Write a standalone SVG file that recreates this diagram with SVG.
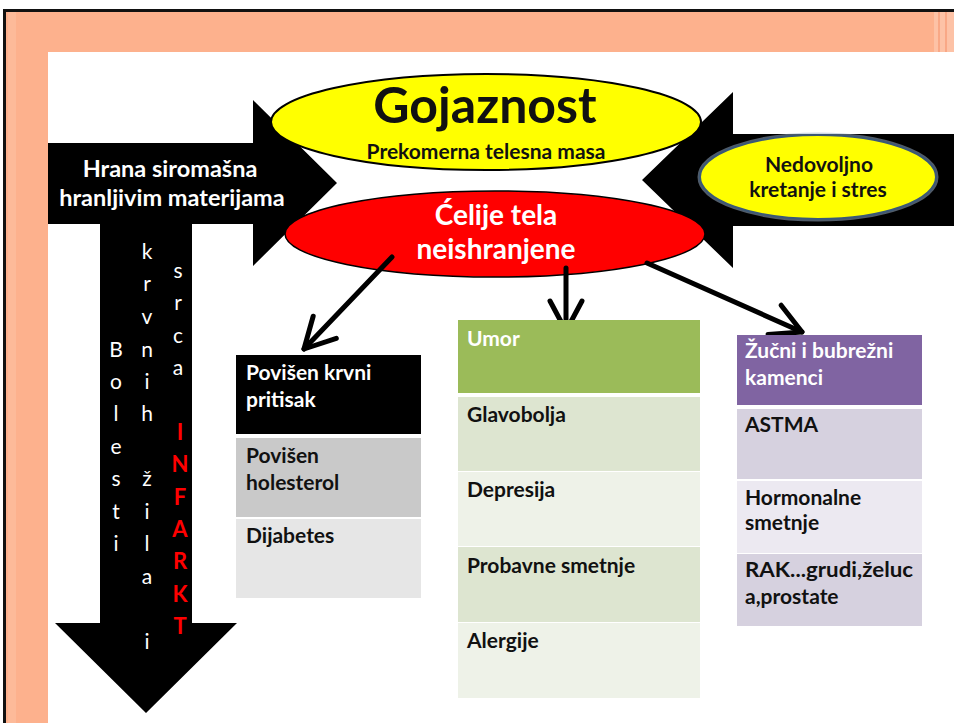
<svg xmlns="http://www.w3.org/2000/svg" width="954" height="723" viewBox="0 0 954 723">
<style>
text { font-family: Lato, "Open Sans", "Liberation Sans", sans-serif; }
.b { font-weight: bold; }
.w { fill: #ffffff; }
.k { fill: #111111; }
.vt { font-size: 21px; fill: #ffffff; text-anchor: middle; }
.rt { font-size: 22px; fill: #ff0000; font-weight: bold; text-anchor: middle; }
.cell { font-size: 21px; font-weight: bold; }
.conn { stroke: #000; stroke-width: 5; fill: none; stroke-linecap: round; marker-end: url(#vhead); }
</style>
<defs>
<marker id="vhead" viewBox="-8 -5 10 10" refX="0" refY="0" markerWidth="10" markerHeight="10" markerUnits="strokeWidth" orient="auto" overflow="visible">
<path d="M -6 -3.2 L 0 0 L -6 3.2" fill="none" stroke="#000" stroke-width="1" stroke-linejoin="round" stroke-linecap="round"/>
</marker>
</defs>
<!-- slide background -->
<rect x="0" y="0" width="954" height="723" fill="#ffffff"/>
<rect x="4" y="10" width="950" height="713" fill="#FDB18D"/>
<rect x="8" y="12" width="8" height="711" fill="#FDBA99"/>
<rect x="934" y="12" width="20" height="40" fill="#FDC2A6"/>
<rect x="938" y="12" width="2" height="40" fill="#F9A886"/>
<rect x="945" y="12" width="2" height="40" fill="#F9A886"/>
<rect x="4" y="9" width="950" height="3" fill="#111"/>
<rect x="3" y="9" width="3" height="714" fill="#111"/>
<rect x="48" y="52" width="906" height="671" fill="#ffffff"/>

<!-- big arrows -->
<g id="arrow-left">
<polygon points="48,143 253,143 253,100 337,183 253,266 253,224 48,224" fill="#000"/>
<polygon points="100,200 192,200 192,623 237,623 146,713 55,623 100,623" fill="#000"/>
<text class="b w" x="170" y="177" font-size="23.5" text-anchor="middle">Hrana siromašna</text>
<text class="b w" x="172" y="206" font-size="23.5" text-anchor="middle">hranljivim materijama</text>
<g id="col-bolesti">
<text class="vt" x="116" y="357">B</text>
<text class="vt" x="116" y="389">o</text>
<text class="vt" x="116" y="421">l</text>
<text class="vt" x="116" y="454">e</text>
<text class="vt" x="116" y="486">s</text>
<text class="vt" x="116" y="519">t</text>
<text class="vt" x="116" y="551">i</text>
</g>
<g id="col-krvnih">
<text class="vt" x="147" y="259">k</text>
<text class="vt" x="147" y="291">r</text>
<text class="vt" x="147" y="324">v</text>
<text class="vt" x="147" y="357">n</text>
<text class="vt" x="147" y="389">i</text>
<text class="vt" x="147" y="421">h</text>
<text class="vt" x="147" y="486">ž</text>
<text class="vt" x="147" y="519">i</text>
<text class="vt" x="147" y="551">l</text>
<text class="vt" x="147" y="584">a</text>
<text class="vt" x="147" y="649">i</text>
</g>
<g id="col-srca">
<text class="vt" x="178" y="278">s</text>
<text class="vt" x="178" y="310">r</text>
<text class="vt" x="178" y="343">c</text>
<text class="vt" x="178" y="375">a</text>
<text class="rt" x="180" y="440">I</text>
<text class="rt" x="180" y="472">N</text>
<text class="rt" x="180" y="505">F</text>
<text class="rt" x="180" y="537">A</text>
<text class="rt" x="180" y="569">R</text>
<text class="rt" x="180" y="602">K</text>
<text class="rt" x="180" y="634">T</text>
</g>
</g>

<g id="arrow-right">
<polygon points="954,134 733,134 733,92 642,180 733,268 733,226 954,226" fill="#000"/>
</g>

<g id="gojaznost">
<ellipse cx="486" cy="122" rx="215" ry="48" fill="#FFFF00" stroke="#000" stroke-width="2"/>
<text class="b k" x="485" y="123" font-size="50" text-anchor="middle">Gojaznost</text>
<text class="b k" x="486" y="159" font-size="21" text-anchor="middle">Prekomerna telesna masa</text>
</g>

<g id="celije">
<ellipse cx="495" cy="234" rx="210" ry="43" fill="#FF0000" stroke="#000" stroke-width="1.5"/>
<text class="b w" x="496" y="225" font-size="28" text-anchor="middle">Ćelije tela</text>
<text class="b w" x="496" y="259" font-size="28" text-anchor="middle">neishranjene</text>
</g>

<g id="nedovoljno">
<ellipse cx="818" cy="177" rx="118" ry="42" fill="none" stroke="#9FB6CF" stroke-width="5" opacity="0.5"/>
<ellipse cx="818" cy="177" rx="118" ry="42" fill="#FFFF00" stroke="#3A5878" stroke-width="2"/>
<text class="b k" x="819" y="172" font-size="21" text-anchor="middle">Nedovoljno</text>
<text class="b k" x="818" y="197" font-size="21" text-anchor="middle">kretanje i stres</text>
</g>

<g id="connectors">
<line class="conn" x1="392" y1="257" x2="304" y2="349"/>
<line class="conn" x1="566" y1="268" x2="566" y2="331"/>
<line class="conn" x1="647" y1="263" x2="802" y2="332"/>
</g>

<g id="table-left">
<rect x="236" y="355" width="185" height="79" fill="#000"/>
<rect x="236" y="438" width="185" height="79" fill="#C9C9C9"/>
<rect x="236" y="519" width="185" height="79" fill="#E6E6E6"/>
<text class="cell w" x="246" y="380">Povišen krvni</text>
<text class="cell w" x="246" y="407">pritisak</text>
<text class="cell k" x="246" y="463">Povišen</text>
<text class="cell k" x="246" y="490">holesterol</text>
<text class="cell k" x="246" y="543">Dijabetes</text>
</g>

<g id="table-middle">
<rect x="458" y="320" width="242" height="73" fill="#9BBB59"/>
<rect x="458" y="397" width="242" height="74" fill="#DDE5D0"/>
<rect x="458" y="472" width="242" height="74" fill="#EEF2E8"/>
<rect x="458" y="547" width="242" height="75" fill="#DDE5D0"/>
<rect x="458" y="623" width="242" height="75" fill="#EEF2E8"/>
<text class="cell w" x="467" y="346">Umor</text>
<text class="cell k" x="467" y="422">Glavobolja</text>
<text class="cell k" x="467" y="497">Depresija</text>
<text class="cell k" x="467" y="573">Probavne smetnje</text>
<text class="cell k" x="467" y="648">Alergije</text>
</g>

<g id="table-right">
<rect x="737" y="335" width="185" height="70" fill="#8064A2"/>
<rect x="737" y="409" width="185" height="70" fill="#D6D1DF"/>
<rect x="737" y="481" width="185" height="72" fill="#ECE9F1"/>
<rect x="737" y="554" width="185" height="72" fill="#D6D1DF"/>
<text class="cell w" x="745" y="358">Žučni i bubrežni</text>
<text class="cell w" x="745" y="385">kamenci</text>
<text class="cell k" x="745" y="432">ASTMA</text>
<text class="cell k" x="745" y="505">Hormonalne</text>
<text class="cell k" x="745" y="530">smetnje</text>
<text class="cell k" x="745" y="577" textLength="168" lengthAdjust="spacingAndGlyphs">RAK...grudi,želuc</text>
<text class="cell k" x="745" y="604">a,prostate</text>
</g>
</svg>
